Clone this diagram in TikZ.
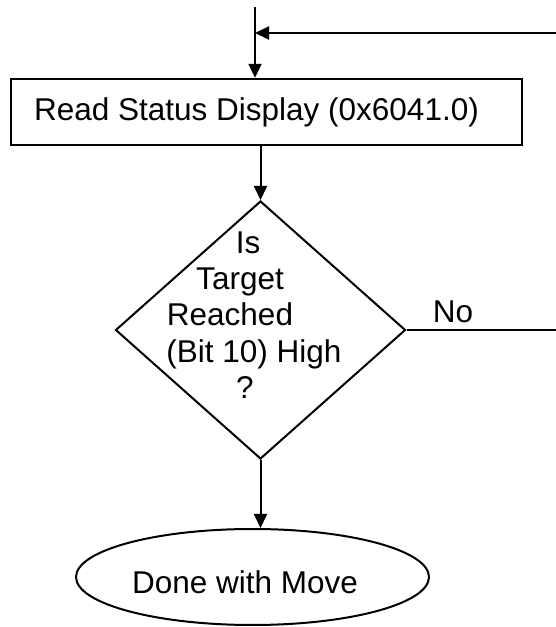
\documentclass[tikz,border=0pt]{standalone}
\usepackage{fontspec}
\setmainfont{Liberation Sans}
\usetikzlibrary{arrows.meta,shapes.geometric}
\newcommand{\trail}[1]{\hbox to #1{}}
\begin{document}
\begin{tikzpicture}[x=1pt,y=1pt,line cap=butt,line join=miter,
  every node/.style={font=\fontsize{31.5}{36.2}\selectfont,inner sep=0pt},
  flow/.style={line width=2pt,-{Triangle[length=14pt,width=13pt]}},
  wire/.style={line width=2pt},
  procbox/.style={draw,line width=2.4pt,minimum width=511pt,minimum height=66pt},
  decision/.style={draw,diamond,line width=2pt,minimum width=290pt,minimum height=258pt},
  endbox/.style={draw,ellipse,line width=2pt,minimum width=353pt,minimum height=96pt}]
  \useasboundingbox (0,0) rectangle (556,627);
  % Read status, test the target bit, leave the loop when it is set.
  \coordinate (topin) at (255,620);
  \coordinate (loopin) at (556,594);
  \coordinate (noend) at (556,297);

  \node[procbox] (rd) at (266.5,515) {};
  \node[anchor=base] (rdtxt) at (256.5,506) {Read Status Display (0x6041.0)};

  \node[decision] (dec) at (260.5,297) {};
  \node[align=center] (dectxt) at (254,312)
    {Is\trail{12pt}\\Target\trail{28pt}\\Reached\trail{48pt}\\(Bit 10) High\\?\trail{18pt}};

  \node[endbox] (done) at (252.5,50) {};
  \node[anchor=base] (donetxt) at (245,34) {Done with Move};

  \draw[flow] (topin) -- (topin |- rd.north);
  \draw[flow] (loopin) -- (loopin -| topin);
  \draw[flow] (rd.south -| dec.north) -- (dec.north);
  \draw[wire] (dec.east) -- (noend);
  \node[anchor=base] (no) at (453,304) {No};
  \draw[flow] (dec.south) -- (dec.south |- done.north);
\end{tikzpicture}
\end{document}
